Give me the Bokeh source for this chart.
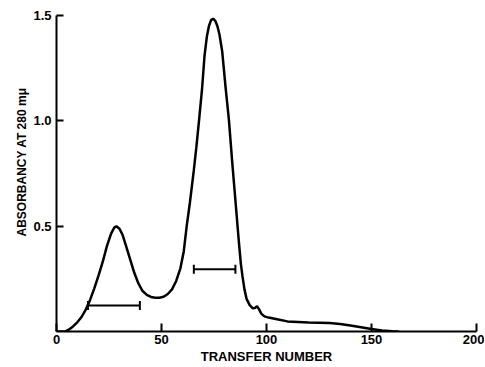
from bokeh.plotting import figure
from bokeh.models import Range1d, FixedTicker, Title
from bokeh.embed import file_html
from bokeh.resources import INLINE

# Data
transfer = [0, 4, 6, 8, 10, 12, 14, 16, 18, 20, 22, 24, 26, 27.5, 28.5, 30, 31.5,
            33, 35, 37, 39, 41, 43, 45, 47, 49, 51, 53, 55, 57, 59, 60.6, 62, 63.5,
            65.4, 66.6, 67.9, 69.3, 70.5, 71.6, 72.6, 73.6, 74.6, 75.6, 76.6, 77.6,
            78.9, 80.5, 82.1, 83.7, 85.3, 86.8, 87.8, 88.6, 89.5, 90.5, 92, 93.5,
            94.5, 95.5, 96.5, 97.5, 99, 101, 105, 110, 120, 130, 135, 140, 145,
            150, 155, 160, 163]
absorbancy = [0, 0, 0.01, 0.025, 0.045, 0.07, 0.105, 0.15, 0.205, 0.265, 0.33, 0.405,
              0.465, 0.493, 0.5, 0.488, 0.458, 0.41, 0.345, 0.28, 0.228, 0.192, 0.174,
              0.164, 0.16, 0.16, 0.165, 0.178, 0.2, 0.24, 0.30, 0.38, 0.50, 0.61,
              0.766, 0.875, 1.005, 1.15, 1.31, 1.40, 1.45, 1.478, 1.485, 1.475, 1.45,
              1.41, 1.33, 1.16, 1.005, 0.80, 0.61, 0.43, 0.32, 0.26, 0.20, 0.155,
              0.125, 0.11, 0.112, 0.12, 0.105, 0.085, 0.072, 0.066, 0.058, 0.048,
              0.043, 0.04, 0.036, 0.028, 0.02, 0.012, 0.005, 0.001, 0]

# Pooled fractions (horizontal bars)
bar_start = [15, 65.4]
bar_end = [39.7, 85.2]
bar_level = [0.123, 0.295]

x_ticks = [0, 50, 100, 150, 200]
x_tick_labels = ["0", "50", "100", "150", "200"]
y_ticks = [0.5, 1.0, 1.5]
y_tick_labels = ["0.5", "1.0", "1.5"]

FONT = "Liberation Sans"

p = figure(width=484, height=366, output_backend="svg", toolbar_location=None,
           x_range=Range1d(0, 200), y_range=Range1d(0, 1.5),
           min_border_left=56, min_border_right=8, min_border_top=15, min_border_bottom=34)
p.outline_line_color = None
p.xgrid.visible = False
p.ygrid.visible = False
p.background_fill_color = "white"
p.border_fill_color = "white"

p.line(transfer, absorbancy, line_color="black", line_width=2.5)

p.segment(x0=bar_start, y0=bar_level, x1=bar_end, y1=bar_level,
          line_color="black", line_width=2)
p.scatter(x=bar_start + bar_end, y=bar_level + bar_level, marker="dash",
          angle=1.5708, size=9, line_color="black", line_width=2)

# axes styling
for ax in (p.xaxis[0], p.yaxis[0]):
    ax.axis_line_width = 2
    ax.axis_line_color = "black"
    ax.major_tick_line_width = 2
    ax.major_tick_line_color = "black"
    ax.major_tick_out = 0
    ax.minor_tick_line_color = None
    ax.major_label_text_font = FONT
    ax.major_label_text_font_style = "bold"
    ax.major_label_text_font_size = "13px"
    ax.major_label_text_color = "black"

p.xaxis.ticker = FixedTicker(ticks=x_ticks)
p.xaxis.major_label_overrides = dict(zip(x_ticks, x_tick_labels))
p.xaxis.major_tick_in = 8
p.xaxis.major_label_standoff = 3
p.xaxis.axis_label = "TRANSFER NUMBER"
p.xaxis.axis_label_text_font = FONT
p.xaxis.axis_label_text_font_style = "bold"
p.xaxis.axis_label_text_font_size = "13px"
p.xaxis.axis_label_text_color = "black"
p.xaxis.axis_label_standoff = 2

p.yaxis.ticker = FixedTicker(ticks=y_ticks)
p.yaxis.major_label_overrides = dict(zip(y_ticks, y_tick_labels))
p.yaxis.major_tick_in = 7
p.yaxis.major_label_standoff = 5

ylab = Title(text="ABSORBANCY AT 280 mμ", align="left", offset=95,
             text_font=FONT, text_font_style="bold", text_font_size="12px",
             text_color="black", standoff=4)
p.add_layout(ylab, "left")

open("out.html", "w").write(file_html(p, INLINE))
